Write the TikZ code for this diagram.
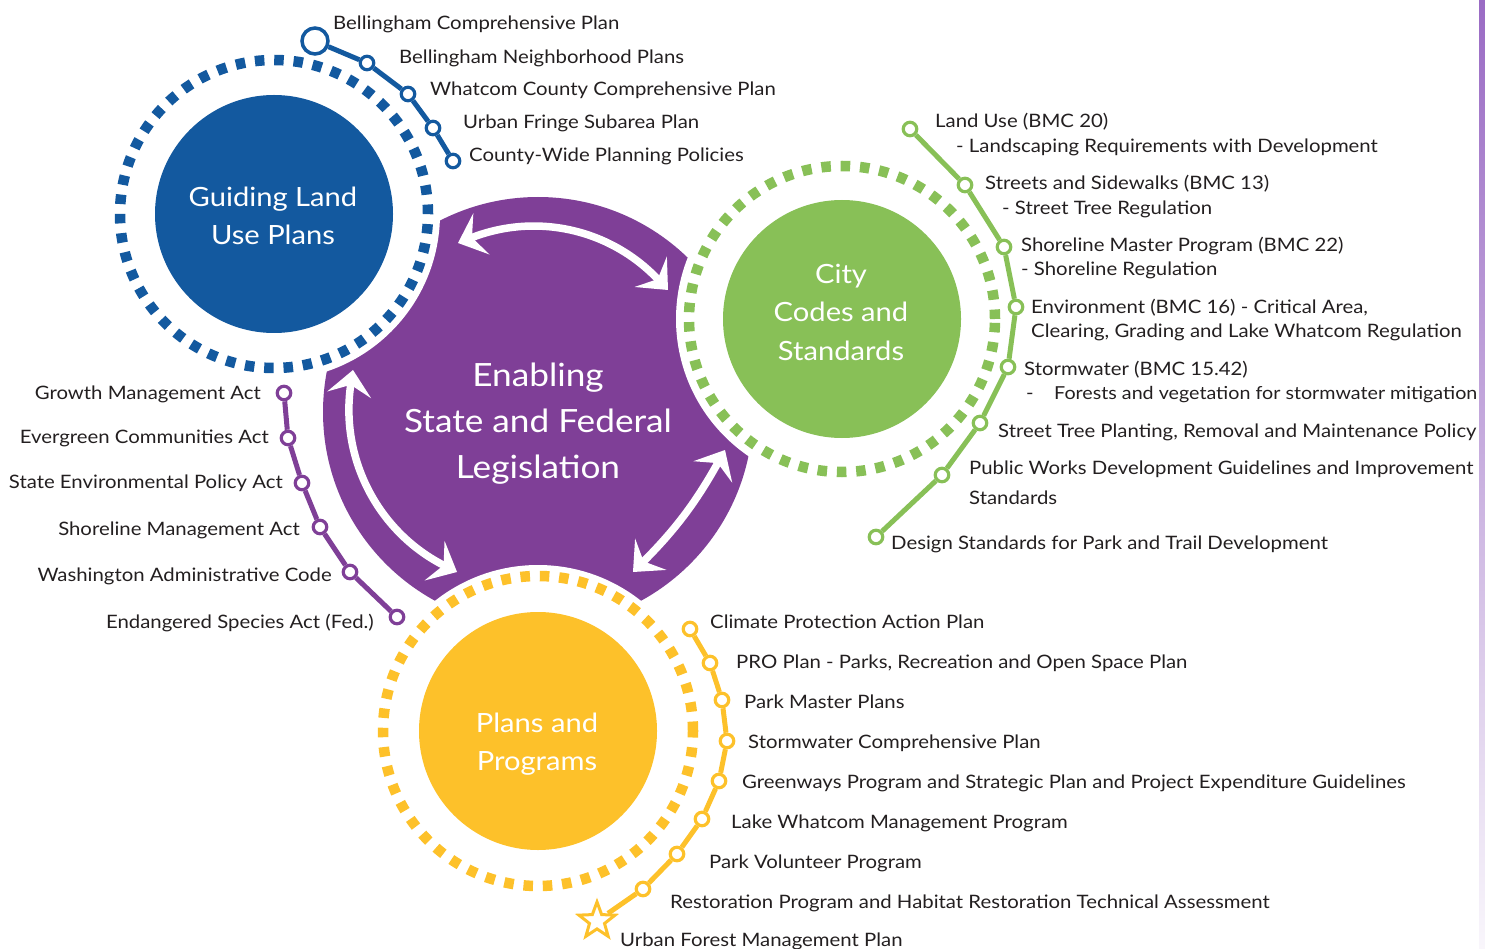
\documentclass[tikz,border=0pt]{standalone}
\usepackage{fontspec}
\setmainfont{Lato}[FakeStretch=1.1]
\usetikzlibrary{shapes.geometric,arrows.meta}
\definecolor{cblue}{HTML}{13599F}
\definecolor{cpurple}{HTML}{7F3F97}
\definecolor{cgreen}{HTML}{88C057}
\definecolor{cyellow}{HTML}{FDC12A}
\definecolor{ctext}{HTML}{231F20}
\definecolor{cbar}{HTML}{9A6BC4}
\begin{document}
\begin{tikzpicture}[x=1pt,y=1pt,
  stn/.style={circle, draw=#1, fill=white, line width=3.2pt, inner sep=0pt, minimum size=13.5pt},
  route/.style={draw=#1, line width=5pt},
  lbl/.style={anchor=base west, inner sep=0pt, font=\fontsize{18.5}{22}\selectfont, text=ctext},
  lblr/.style={anchor=base east, inner sep=0pt, font=\fontsize{18.5}{22}\selectfont, text=ctext},
  ring/.style={draw=#1, line width=10.5pt, dash pattern=on 9.5pt off 9.85pt},
  hub/.style={circle, fill=#1, inner sep=0pt, minimum size=238pt},
  hubtext/.style={text=white, font=\fontsize{26.5}{38.5}\selectfont, align=center},
  flow/.style={draw=white, line width=7.5pt, {Stealth[length=25pt,width=44pt,inset=10pt]}-{Stealth[length=25pt,width=44pt,inset=10pt]}}
]
\useasboundingbox (0,0) rectangle (1485,-949);
% centres
\coordinate (pc) at (538,-412);
\coordinate (bc) at (274,-214);
\coordinate (gc) at (842,-319);
\coordinate (yc) at (538,-731);
% purple body
\fill[cpurple] (pc) circle[radius=215];
\fill[white] (bc) circle[radius=166];
\fill[white] (gc) circle[radius=166];
\fill[white] (yc) circle[radius=166];
% rings
\draw[ring=cblue] (bc) circle[radius=154];
\draw[ring=cgreen] (gc) circle[radius=153];
\draw[ring=cyellow] (yc) circle[radius=155];
% hubs
\node[hub=cblue] (bhub) at (bc) {};
\node[hub=cgreen] (ghub) at (gc) {};
\node[hub=cyellow] (yhub) at (yc) {};
\node[hubtext] (btxt) at (273,-216) {Guiding Land\\Use Plans};
\node[hubtext] (gtxt) at (841,-312) {City\\Codes and\\Standards};
\node[hubtext] (ytxt) at (537,-744) {Plans and\\Programs};
\node[text=white, font=\fontsize{32}{46}\selectfont, align=center] (ptxt) at (538,-424) {Enabling\\State and Federal\\Legislation};
% arrows
\coordinate (ta) at (458,-243);
\coordinate (tb) at (668,-290);
\coordinate (la) at (353,-370);
\coordinate (lb) at (457,-572);
\coordinate (ra) at (725,-450);
\coordinate (rb) at (633,-572);
\draw[flow] (ta) to[bend left=34] (tb);
\draw[flow] (la) to[bend right=36] (lb);
\draw[flow] (ra) to[bend left=8] (rb);
% blue line
\node[circle, draw=cblue, fill=white, line width=3.5pt, inner sep=0pt, minimum size=26pt] (b0) at (315,-41) {};
\node[stn=cblue] (b1) at (367,-63) {};
\node[stn=cblue] (b2) at (408,-94) {};
\node[stn=cblue] (b3) at (433,-128) {};
\node[stn=cblue] (b4) at (453,-161) {};
\draw[route=cblue] (b0) -- (b1) -- (b2) -- (b3) -- (b4);
\node[lbl] (bl0) at (333,-29.5) {Bellingham Comprehensive Plan};
\node[lbl] (bl1) at (399,-63.5) {Bellingham Neighborhood Plans};
\node[lbl] (bl2) at (430,-95.5) {Whatcom County Comprehensive Plan};
\node[lbl] (bl3) at (463,-128.5) {Urban Fringe Subarea Plan};
\node[lbl] (bl4) at (469,-161.5) {County-Wide Planning Policies};
% green line
\node[stn=cgreen] (g0) at (910,-129) {};
\node[stn=cgreen] (g1) at (965,-185) {};
\node[stn=cgreen] (g2) at (1004,-247) {};
\node[stn=cgreen] (g3) at (1016,-307) {};
\node[stn=cgreen] (g4) at (1008,-367) {};
\node[stn=cgreen] (g5) at (980,-423) {};
\node[stn=cgreen] (g6) at (942,-475) {};
\node[stn=cgreen] (g7) at (876,-537) {};
\draw[route=cgreen] (g0) -- (g1) -- (g2) -- (g3) -- (g4) -- (g5) -- (g6) -- (g7);
\node[lbl] (gl0) at (935,-127.5) {Land Use (BMC 20)};
\node[lbl] (gl0b) at (956,-152.5) {- Landscaping Requirements with Development};
\node[lbl] (gl1) at (985,-189.5) {Streets and Sidewalks (BMC 13)};
\node[lbl] (gl1b) at (1002,-214.5) {- Street Tree Regulation};
\node[lbl] (gl2) at (1021,-251.5) {Shoreline Master Program (BMC 22)};
\node[lbl] (gl2b) at (1021,-275.5) {- Shoreline Regulation};
\node[lbl] (gl3) at (1031,-313.5) {Environment (BMC 16) - Critical Area,};
\node[lbl] (gl3b) at (1031,-337.5) {Clearing, Grading and Lake Whatcom Regulation};
\node[lbl] (gl4) at (1024,-375.5) {Stormwater (BMC 15.42)};
\node[lbl] (gl4a) at (1026,-399.5) {-};
\node[lbl, font=\fontsize{17.9}{22}\selectfont] (gl4b) at (1054,-399.5) {Forests and vegetation for stormwater mitigation};
\node[lbl] (gl5) at (998,-437.5) {Street Tree Planting, Removal and Maintenance Policy};
\node[lbl] (gl6) at (969,-474.5) {Public Works Development Guidelines and Improvement};
\node[lbl] (gl6b) at (969,-504.5) {Standards};
\node[lbl] (gl7) at (891,-549.5) {Design Standards for Park and Trail Development};
% purple line
\node[stn=cpurple] (p0) at (284,-393) {};
\node[stn=cpurple] (p1) at (288,-438) {};
\node[stn=cpurple] (p2) at (302,-483) {};
\node[stn=cpurple] (p3) at (320,-527) {};
\node[stn=cpurple] (p4) at (350,-572) {};
\node[stn=cpurple] (p5) at (397,-617) {};
\draw[route=cpurple] (p0) -- (p1) -- (p2) -- (p3) -- (p4) -- (p5);
\node[lblr] (pl0) at (261,-399.5) {Growth Management Act};
\node[lblr] (pl1) at (269,-443.5) {Evergreen Communities Act};
\node[lblr] (pl2) at (283,-488.5) {State Environmental Policy Act};
\node[lblr] (pl3) at (300,-535.5) {Shoreline Management Act};
\node[lblr] (pl4) at (332,-581.5) {Washington Administrative Code};
\node[lblr] (pl5) at (374,-628.5) {Endangered Species Act (Fed.)};
% yellow line
\node[stn=cyellow] (y0) at (690,-629) {};
\node[stn=cyellow] (y1) at (710,-663) {};
\node[stn=cyellow] (y2) at (722,-700) {};
\node[stn=cyellow] (y3) at (727,-741) {};
\node[stn=cyellow] (y4) at (719,-781) {};
\node[stn=cyellow] (y5) at (702,-819) {};
\node[stn=cyellow] (y6) at (677,-854) {};
\node[stn=cyellow] (y7) at (643,-889) {};
\node[star, star points=5, star point ratio=2.4, draw=cyellow, fill=white, line width=3pt, inner sep=0pt, minimum size=38pt] (y8) at (597,-921) {};
\draw[route=cyellow] (y0) -- (y1) -- (y2) -- (y3) -- (y4) -- (y5) -- (y6) -- (y7) -- (y8);
\node[lbl] (yl0) at (710,-628.5) {Climate Protection Action Plan};
\node[lbl] (yl1) at (736,-668.5) {PRO Plan - Parks, Recreation and Open Space Plan};
\node[lbl] (yl2) at (744,-708.5) {Park Master Plans};
\node[lbl] (yl3) at (748,-748.5) {Stormwater Comprehensive Plan};
\node[lbl] (yl4) at (742,-788.5) {Greenways Program and Strategic Plan and Project Expenditure Guidelines};
\node[lbl] (yl5) at (731,-828.5) {Lake Whatcom Management Program};
\node[lbl] (yl6) at (709,-868.5) {Park Volunteer Program};
\node[lbl] (yl7) at (670,-908.5) {Restoration Program and Habitat Restoration Technical Assessment};
\node[lbl] (yl8) at (620,-946.5) {Urban Forest Management Plan};
% side bar
\shade[top color=cbar, bottom color=cbar!6] (1479,0) rectangle (1485,-949);
\end{tikzpicture}
\end{document}
